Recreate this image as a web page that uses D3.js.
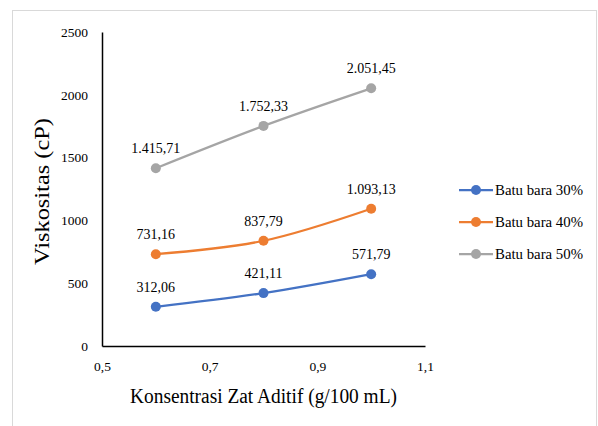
<!DOCTYPE html>
<html><head><meta charset="utf-8">
<script src="https://cdn.jsdelivr.net/npm/d3@7"></script>
<style>body{margin:0;background:#fff;} svg, svg text{font-family:"Liberation Serif","Times New Roman",Times,serif !important;}</style>
</head><body>
<script>
const xValues = [0.6, 0.8, 1.0];
const seriesNames = ["Batu bara 30%", "Batu bara 40%", "Batu bara 50%"];
const values30 = [312.06, 421.11, 571.79];
const values40 = [731.16, 837.79, 1093.13];
const values50 = [1415.71, 1752.33, 2051.45];
const colors = ["#4472C4", "#ED7D31", "#A5A5A5"];
const yTicks = [0, 500, 1000, 1500, 2000, 2500];
const xTicks = [0.5, 0.7, 0.9, 1.1];

const series = [values30, values40, values50].map((v, i) => ({name: seriesNames[i], color: colors[i], values: v}));

const W = 598, H = 426;
const FF = '"Liberation Serif","Times New Roman",Times,serif';
const svg = d3.select("body").append("svg").attr("width", W).attr("height", H).attr("font-family", FF);
svg.append("rect").attr("x", 12.5).attr("y", 10.5).attr("width", 584).attr("height", 430)
  .attr("fill", "#fff").attr("stroke", "#d9d9d9");

const x = d3.scaleLinear().domain([0.5, 1.1]).range([102, 425]);
const y = d3.scaleLinear().domain([0, 2500]).range([346, 32]);

const comma = v => String(v).replace(".", ",");
const fmtLabel = v => {
  const s = v.toFixed(2).split(".");
  const intPart = s[0].replace(/\B(?=(\d{3})+(?!\d))/g, ".");
  return intPart + "," + s[1];
};

const yAxis = d3.axisLeft(y).tickValues(yTicks).tickSize(0).tickPadding(14).tickFormat(d => d);
const gy = svg.append("g").attr("transform", "translate(102,0)").call(yAxis).attr("font-family", FF);
gy.select(".domain").attr("stroke", "#000").attr("stroke-width", 1.5);
gy.selectAll("text").attr("font-size", 13.5).attr("fill", "#000");

const xAxis = d3.axisBottom(x).tickValues(xTicks).tickSize(0).tickPadding(15).tickFormat(d => comma(d));
const gx = svg.append("g").attr("transform", "translate(0,346)").call(xAxis).attr("font-family", FF);
gx.select(".domain").attr("stroke", "#000").attr("stroke-width", 1.5);
gx.selectAll("text").attr("font-size", 13.5).attr("fill", "#000");

svg.append("text").attr("x", 263.5).attr("y", 403).attr("text-anchor", "middle")
  .attr("font-size", 20).attr("fill", "#000")
  .attr("textLength", 267).attr("lengthAdjust", "spacingAndGlyphs")
  .text("Konsentrasi Zat Aditif (g/100 mL)");
svg.append("text").attr("transform", "translate(49,191.5) rotate(-90)").attr("text-anchor", "middle")
  .attr("font-size", 21).attr("fill", "#000")
  .attr("textLength", 147).attr("lengthAdjust", "spacingAndGlyphs")
  .text("Viskositas (cP)");

const line = d3.line().x((d, i) => x(xValues[i])).y(d => y(d)).curve(d3.curveCardinal.tension(0));

series.forEach(s => {
  svg.append("path").datum(s.values).attr("d", line).attr("fill", "none")
    .attr("stroke", s.color).attr("stroke-width", 2.25);
  svg.selectAll(null).data(s.values).enter().append("circle")
    .attr("cx", (d, i) => x(xValues[i])).attr("cy", d => y(d)).attr("r", 5).attr("fill", s.color);
  svg.selectAll(null).data(s.values).enter().append("text")
    .attr("x", (d, i) => x(xValues[i])).attr("y", d => y(d) - 15)
    .attr("text-anchor", "middle").attr("font-size", 14).attr("fill", "#000")
    .text(d => fmtLabel(d));
});

const lg = svg.append("g");
series.forEach((s, i) => {
  const yy = 190 + i * 32;
  lg.append("line").attr("x1", 459).attr("x2", 493).attr("y1", yy).attr("y2", yy)
    .attr("stroke", s.color).attr("stroke-width", 2.25);
  lg.append("circle").attr("cx", 476).attr("cy", yy).attr("r", 5).attr("fill", s.color);
  lg.append("text").attr("x", 495).attr("y", yy + 5).attr("font-size", 14.5).attr("fill", "#000")
    .attr("textLength", 88).attr("lengthAdjust", "spacingAndGlyphs").text(s.name);
});
</script>
</body></html>
